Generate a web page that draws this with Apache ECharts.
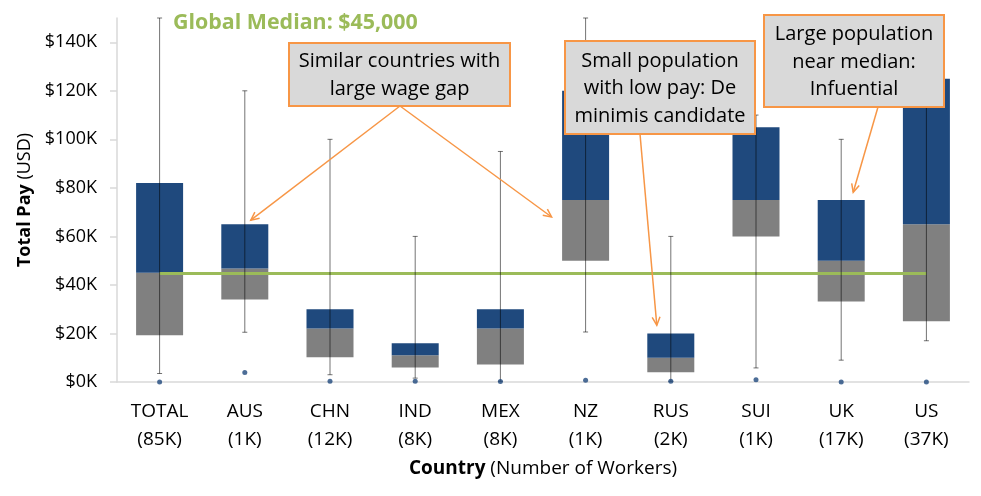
<!DOCTYPE html>
<html><head><meta charset="utf-8">
<script src="https://cdn.jsdelivr.net/npm/echarts@6/dist/echarts.min.js"></script>
<style>html,body{margin:0;padding:0;background:#fff}#c{width:981px;height:496px}</style>
</head><body><div id="c"></div>
<script>
// ---- data (values in thousands of USD) ----
const categories = ['TOTAL','AUS','CHN','IND','MEX','NZ','RUS','SUI','UK','US'];
const workers = ['85K','1K','12K','8K','8K','1K','2K','1K','17K','37K'];
const q1 = [19.3,34,10.2,6,7.2,50,4,60,33.2,25];
const median = [45,46.8,22,11,22,75,10,75,50,65];
const q3 = [82,65,30,16,30,120,20,105,75,125];
const whiskerLow = [3.5,20.5,3,1.6,0.3,20.6,0.3,5.8,9,17];
const whiskerHigh = [150,120,100,60,95,150,60,110,100,140];
const lowPoint = [0,3.9,0.3,0.3,0.2,0.7,0.3,0.9,0,0];
const yTicks = [0,20,40,60,80,100,120,140];
const globalMedian = 45;

const FONT = 'Open Sans';
const BLUE = '#1f497d', GRAY = '#808080', GREEN = '#9bbb59', ORANGE = '#f79646';

const chart = echarts.init(document.getElementById('c'), null, {renderer:'canvas'});

const option = {
  animation: false,
  grid: {left: 117, right: 12, top: 18, bottom: 114},
  xAxis: {
    type: 'category',
    data: categories.map((c, i) => c + '\n(' + workers[i] + ')'),
    axisLine: {lineStyle: {color: '#d9d9d9', width: 1.5}},
    axisTick: {length: 5, lineStyle: {color: '#d9d9d9', width: 1.5}},
    axisLabel: {color: '#000', fontFamily: FONT, fontSize: 19, lineHeight: 28, margin: 16},
    name: '{b|Country}{n| (Number of Workers)}',
    nameLocation: 'middle',
    nameGap: 77,
    nameTextStyle: {
      rich: {
        b: {fontFamily: FONT, fontSize: 19, fontWeight: 'bold', color: '#000'},
        n: {fontFamily: FONT, fontSize: 19, color: '#000'}
      }
    }
  },
  yAxis: {
    type: 'value', min: 0, max: 150, interval: 20,
    splitLine: {show: false},
    axisLine: {show: true, lineStyle: {color: '#d9d9d9', width: 1.5}},
    axisTick: {show: true, length: 7, customValues: yTicks, lineStyle: {color: '#d9d9d9', width: 1.5}},
    axisLabel: {customValues: yTicks, color: '#000', fontFamily: FONT, fontSize: 18, margin: 20,
      formatter: v => '$' + v + 'K'},
    name: '{b|Total Pay}{n| (USD)}',
    nameLocation: 'middle',
    nameGap: 79,
    nameTextStyle: {
      rich: {
        b: {fontFamily: FONT, fontSize: 18, fontWeight: 'bold', color: '#000'},
        n: {fontFamily: FONT, fontSize: 18, color: '#000'}
      }
    }
  },
  series: [
    {type: 'bar', stack: 'box', barWidth: 47, data: q1, itemStyle: {color: 'transparent'}, silent: true},
    {type: 'bar', stack: 'box', barWidth: 47, data: median.map((m, i) => +(m - q1[i]).toFixed(2)), itemStyle: {color: GRAY}},
    {type: 'bar', stack: 'box', barWidth: 47, data: q3.map((v, i) => +(v - median[i]).toFixed(2)), itemStyle: {color: BLUE}},
    {
      type: 'custom', z: 5,
      data: categories.map((c, i) => [i, whiskerLow[i], whiskerHigh[i]]),
      encode: {x: 0, y: [1, 2]},
      renderItem: (params, api) => {
        const x = api.value(0);
        const lo = api.coord([x, api.value(1)]);
        const hi = api.coord([x, api.value(2)]);
        const cap = 2.5;
        const st = {stroke: 'rgba(0,0,0,0.55)', lineWidth: 1};
        return {type: 'group', children: [
          {type: 'line', shape: {x1: lo[0], y1: lo[1], x2: hi[0], y2: hi[1]}, style: st},
          {type: 'line', shape: {x1: lo[0] - cap, y1: lo[1], x2: lo[0] + cap, y2: lo[1]}, style: st},
          {type: 'line', shape: {x1: hi[0] - cap, y1: hi[1], x2: hi[0] + cap, y2: hi[1]}, style: st}
        ]};
      }
    },
    {
      type: 'scatter', z: 6, symbolSize: 5,
      data: lowPoint.map((v, i) => [i, v]),
      itemStyle: {color: BLUE},
      markLine: {
        silent: true, symbol: 'none', label: {show: false},
        lineStyle: {color: GREEN, width: 3, type: 'solid'},
        data: [[{coord: [0, globalMedian]}, {coord: [categories.length - 1, globalMedian]}]]
      }
    }
  ]
};
chart.setOption(option);

// ---- annotations ----
function px(cat, val, dx) {
  const p = chart.convertToPixel({xAxisIndex: 0, yAxisIndex: 0}, [cat, val]);
  return [p[0] + (dx || 0), p[1]];
}
const notes = [
  {lines: ['Similar countries with', 'large wage gap'], box: [289, 43, 221, 63], from: [400, 106],
   to: [px(1, 66.7, 6), px(5, 68, -34)]},
  {lines: ['Small population', 'with low pay: De', 'minimis candidate'], box: [565, 41, 190, 93], from: [640, 134],
   to: [px(6, 23.4, -14)]},
  {lines: ['Large population', 'near median:', 'Infuential'], box: [764, 15, 180, 92], from: [878, 107],
   to: [px(8, 78.2, 12)]}
];
const g = [];
g.push({type: 'text', left: 173, top: 12, z: 20,
  style: {text: 'Global Median: $' + (globalMedian * 1000).toLocaleString('en-US'), fill: GREEN,
    font: 'bold 21.4px "' + FONT + '"'}});
notes.forEach(n => {
  n.to.forEach(t => {
    const [x1, y1] = n.from, [x2, y2] = t;
    g.push({type: 'line', z: 20, shape: {x1, y1, x2, y2}, style: {stroke: ORANGE, lineWidth: 1.5}});
    const a = Math.atan2(y2 - y1, x2 - x1), L = 9, w = 0.45;
    g.push({type: 'polyline', z: 20, shape: {points: [
      [x2 - L * Math.cos(a - w), y2 - L * Math.sin(a - w)], [x2, y2],
      [x2 - L * Math.cos(a + w), y2 - L * Math.sin(a + w)]]},
      style: {stroke: ORANGE, lineWidth: 1.5, fill: null}});
  });
  const [bx, by, bw, bh] = n.box;
  g.push({type: 'rect', z: 21, shape: {x: bx, y: by, width: bw, height: bh},
    style: {fill: '#d9d9d9', stroke: ORANGE, lineWidth: 2}});
  g.push({type: 'text', z: 22, x: bx + bw / 2, y: by + bh / 2 + 1,
    style: {text: n.lines.join('\n'), fill: '#000', font: '20px "' + FONT + '"',
      align: 'center', verticalAlign: 'middle', lineHeight: 27.5}});
});
chart.setOption({graphic: g});
</script>
</body></html>
